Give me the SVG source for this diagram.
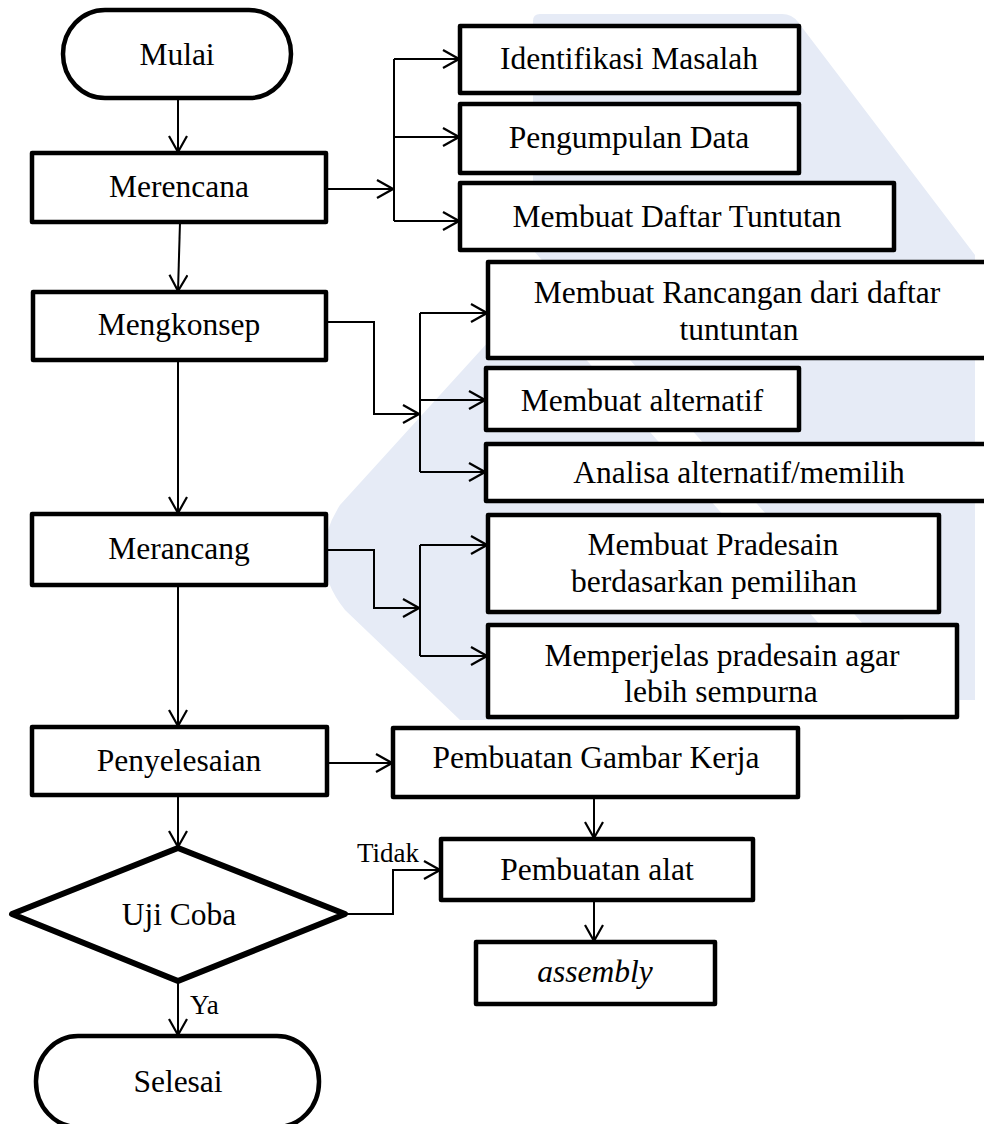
<svg xmlns="http://www.w3.org/2000/svg" width="984" height="1124" viewBox="0 0 984 1124">
<defs>
<style>
.box{fill:#fff;stroke:#000;stroke-width:4.5;stroke-linejoin:round}
.dia{fill:#fff;stroke:#000;stroke-width:6;stroke-linejoin:round}
.t{font-family:"Liberation Serif","Times New Roman",serif;font-size:31.5px;fill:#000;text-anchor:middle}
.lbl{font-family:"Liberation Serif","Times New Roman",serif;font-size:27px;fill:#000}
.c{fill:none;stroke:#000;stroke-width:2}
.a{marker-end:url(#arr)}
.wm{fill:#e6ebf6;stroke:none}
</style>
<marker id="arr" viewBox="0 0 20 20" refX="18" refY="10" markerWidth="20" markerHeight="20" markerUnits="userSpaceOnUse" orient="auto">
<path d="M2,1 L18,10 L2,19" fill="none" stroke="#000" stroke-width="2.2"/>
</marker>
<clipPath id="clipMp"><rect x="488" y="625" width="469" height="78"/></clipPath>
</defs>
<rect width="984" height="1124" fill="#fff"/>

<g id="watermark">
<path class="wm" d="M540,14 H782 Q792,14 798,22 L975,255 V700 H930 L533,250 V21 Q533,14 540,14 Z"/>
<path class="wm" d="M340,505 Q305,560 345,610 L460,720 H904 L560,330 Q540,305 510,318 Z"/>
</g>

<g id="connectors">
<path class="c a" d="M178,98 V152"/>
<path class="c a" d="M180,222 L178,291"/>
<path class="c a" d="M178,360 V513"/>
<path class="c a" d="M178,585 V726"/>
<path class="c a" d="M178,795 V847"/>
<path class="c a" d="M178,981 V1035"/>
<path class="c a" d="M326,189 H393"/>
<path class="c" d="M394,59 V221"/>
<path class="c a" d="M394,59 H459"/>
<path class="c a" d="M394,137 H459"/>
<path class="c a" d="M394,221 H459"/>
<path class="c a" d="M326,322 H374 V414 H419"/>
<path class="c" d="M420,313 V472"/>
<path class="c a" d="M420,313 H487"/>
<path class="c a" d="M420,400 H485"/>
<path class="c a" d="M420,472 H485"/>
<path class="c a" d="M326,550 H374 V608 H419"/>
<path class="c" d="M420,545 V656"/>
<path class="c a" d="M420,545 H487"/>
<path class="c a" d="M420,656 H487"/>
<path class="c a" d="M327,763 H392"/>
<path class="c a" d="M594,797 V838"/>
<path class="c a" d="M594,900 V941"/>
<path class="c a" d="M345,914 H393 V870 H440"/>
<text class="lbl" x="357" y="862">Tidak</text>
<text class="lbl" x="190" y="1014">Ya</text>
</g>

<g id="mulai"><rect class="box" x="63" y="10" width="228" height="88" rx="42" ry="44"/><text class="t" x="177" y="65">Mulai</text></g>
<g id="merencana"><rect class="box" x="32" y="153" width="294" height="69"/><text class="t" x="179" y="197">Merencana</text></g>
<g id="mengkonsep"><rect class="box" x="33" y="292" width="293" height="68"/><text class="t" x="179" y="335">Mengkonsep</text></g>
<g id="merancang"><rect class="box" x="32" y="514" width="294" height="71"/><text class="t" x="179" y="559">Merancang</text></g>
<g id="penyelesaian"><rect class="box" x="32" y="727" width="295" height="68"/><text class="t" x="179" y="771">Penyelesaian</text></g>
<g id="ujicoba"><polygon class="dia" points="178,848 345,914 178,981 12,914"/><text class="t" x="179" y="925">Uji Coba</text></g>
<g id="selesai"><rect class="box" x="36" y="1036" width="283" height="91" rx="42" ry="45"/><text class="t" x="178" y="1092">Selesai</text></g>

<g id="identifikasi"><rect class="box" x="460" y="26" width="339" height="67"/><text class="t" x="629" y="69">Identifikasi Masalah</text></g>
<g id="pengumpulan"><rect class="box" x="460" y="104" width="339" height="69"/><text class="t" x="629" y="148">Pengumpulan Data</text></g>
<g id="daftar"><rect class="box" x="460" y="183" width="434" height="67"/><text class="t" x="677" y="227">Membuat Daftar Tuntutan</text></g>

<g id="rancangan"><rect class="box" x="488" y="262" width="500" height="96"/><text class="t" x="737" y="303">Membuat Rancangan dari daftar</text><text class="t" x="739" y="340">tuntuntan</text></g>
<g id="alternatif"><rect class="box" x="486" y="368" width="313" height="62"/><text class="t" x="642" y="411">Membuat alternatif</text></g>
<g id="analisa"><rect class="box" x="486" y="444" width="502" height="57"/><text class="t" x="739" y="483">Analisa alternatif/memilih</text></g>

<g id="pradesain"><rect class="box" x="488" y="515" width="451" height="97"/><text class="t" x="713" y="555">Membuat Pradesain</text><text class="t" x="714" y="592">berdasarkan pemilihan</text></g>
<g id="memperjelas"><rect class="box" x="488" y="625" width="469" height="92"/><text class="t" x="722" y="666">Memperjelas pradesain agar</text><text class="t" x="721" y="702" clip-path="url(#clipMp)">lebih sempurna</text></g>

<g id="gambar"><rect class="box" x="393" y="728" width="405" height="69"/><text class="t" x="596" y="768">Pembuatan Gambar Kerja</text></g>
<g id="alat"><rect class="box" x="441" y="839" width="312" height="61"/><text class="t" x="597" y="880">Pembuatan alat</text></g>
<g id="assembly"><rect class="box" x="476" y="942" width="239" height="62"/><text class="t" x="595" y="982" font-style="italic">assembly</text></g>
</svg>
